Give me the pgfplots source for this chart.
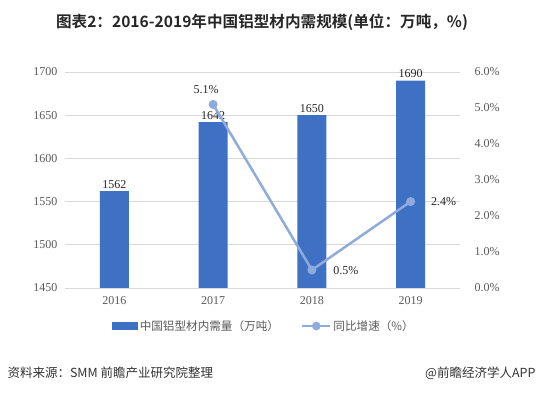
\documentclass[border=0pt]{standalone}
\usepackage{pgfplots}
\pgfplotsset{compat=1.18}
\usepackage{fontspec}
\setmainfont{Liberation Serif}
\newfontfamily\cjk{Noto Sans CJK SC}
\newfontfamily\cjkb{Noto Sans CJK SC Bold}
\definecolor{barblue}{RGB}{62,112,196}
\definecolor{lineblue}{RGB}{143,170,220}
\definecolor{gridgray}{RGB}{217,217,217}
\definecolor{txt}{RGB}{89,89,89}
\pgfkeys{/pgf/number format/1000 sep={}}
\begin{document}
\begin{tikzpicture}
\begin{axis}[at={(65pt,105pt)}, anchor=south west, scale only axis,
  width=395pt, height=216pt,
  ymin=1450, ymax=1700, ytick={1450,1500,...,1700},
  xmin=-0.5, xmax=3.5, xtick={0,1,2,3}, xticklabels={2016,2017,2018,2019},
  axis line style={draw=none}, major tick style={draw=none},
  ymajorgrids, grid style={draw=gridgray, line width=0.8pt},
  /pgf/number format/assume math mode=true,
  ticklabel style={font=\fontsize{12}{12}\selectfont, text=txt},
  yticklabel style={xshift=-4pt},
  xticklabel style={yshift=-1pt},
  ybar, bar width=29pt,
  nodes near coords,
  every node near coord/.append style={font=\fontsize{12}{12}\selectfont, text=black!85, yshift=-1pt},
]
\addplot[fill=barblue, draw=none] coordinates {(0,1562) (1,1642) (2,1650) (3,1690)};
\end{axis}
\begin{axis}[at={(65pt,105pt)}, anchor=south west, scale only axis,
  width=395pt, height=216pt,
  ymin=0, ymax=6, ytick={0,1,...,6},
  xmin=-0.5, xmax=3.5,
  axis y line*=right, hide x axis,
  axis line style={draw=none}, major tick style={draw=none},
  /pgf/number format/assume math mode=true,
  yticklabel={\pgfmathprintnumber[fixed,fixed zerofill,precision=1]{\tick}\%},
  ticklabel style={font=\fontsize{12}{12}\selectfont, text=txt},
  yticklabel style={xshift=11pt},
  legend style={at={(0.504,-0.176)}, anchor=center, draw=none, fill=none,
    font=\cjk\fontsize{11.6}{11.6}\selectfont, text=txt, legend columns=2,
    /tikz/every even column/.append style={column sep=20pt}},
]
\addlegendimage{legend image code/.code={\fill[barblue] (0pt,-3.5pt) rectangle (25pt,3.5pt);}}
\addlegendentry{中国铝型材内需量（万吨）}
\addplot[color=lineblue, line width=2.5pt, mark=*, mark size=3.2pt, mark options={fill=lineblue, draw=lineblue},
  legend image code/.code={\draw[lineblue, line width=2.5pt] (0pt,0pt)--(28pt,0pt); \fill[lineblue] (14pt,0pt) circle (3pt);}]
  coordinates {(1,5.1) (2,0.5) (3,2.4)};
\addlegendentry{同比增速（\%）}
\node[font=\fontsize{12}{12}\selectfont, text=black!85] at (axis cs:1,5.1) [xshift=-7pt, yshift=15pt] {5.1\%};
\node[font=\fontsize{12}{12}\selectfont, text=black!85, anchor=west] at (axis cs:2,0.5) [xshift=18pt, yshift=-1pt] {0.5\%};
\node[font=\fontsize{12}{12}\selectfont, text=black!85, anchor=west] at (axis cs:3,2.4) [xshift=17pt, yshift=0pt] {2.4\%};
\end{axis}
\node[font=\cjkb\fontsize{15.6}{15.6}\selectfont, text=black!85] at (262pt,371pt) {图表2：2016-2019年中国铝型材内需规模(单位：万吨，\%)};
\node[font=\cjk\fontsize{12.5}{12.5}\selectfont, text=black!80, anchor=west] at (4pt,20pt) {资料来源：SMM 前瞻产业研究院整理};
\node[font=\cjk\fontsize{12.5}{12.5}\selectfont, text=black!80, anchor=east] at (539pt,20pt) {@前瞻经济学人APP};
\pgfresetboundingbox
\useasboundingbox (0pt,0pt) rectangle (539pt,393pt);
\end{tikzpicture}
\end{document}
